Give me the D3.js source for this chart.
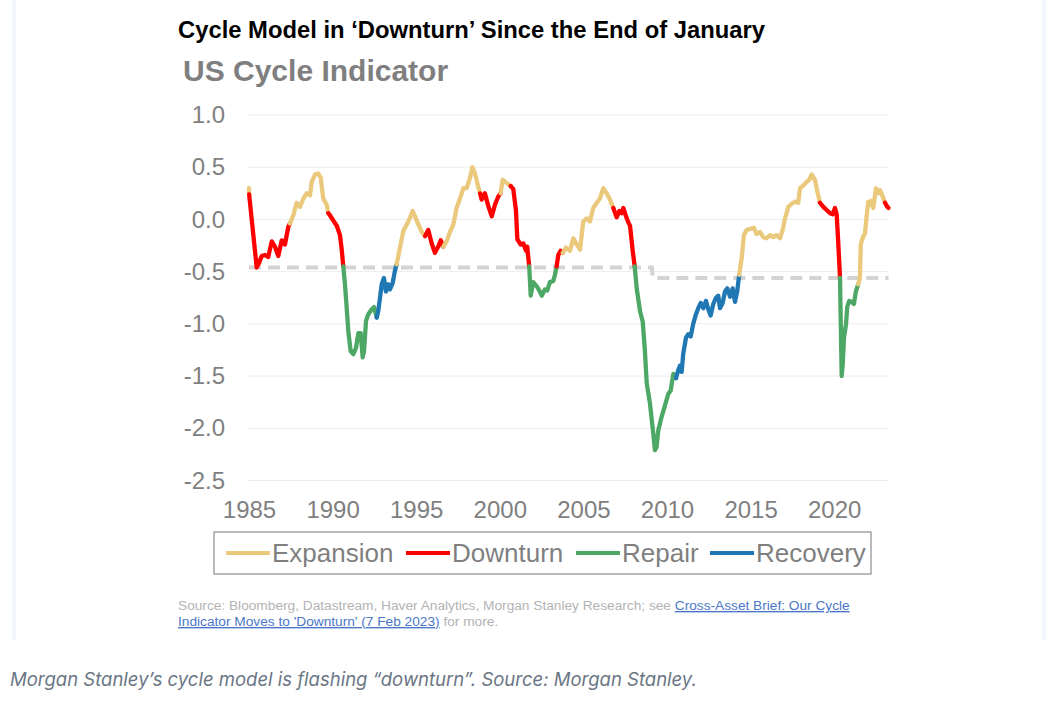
<!DOCTYPE html>
<html><head><meta charset="utf-8">
<script src="https://cdn.jsdelivr.net/npm/d3@7"></script>
<style>body{margin:0;background:#fff;} svg{display:block;}</style>
</head><body><svg id="c" width="1053" height="702"></svg>
<script>
// ---------- DATA ----------
const phaseCodes = ["E", "D", "R", "C"];
const phaseNames = ["Expansion", "Downturn", "Repair", "Recovery"];
const phaseColors = ["#EBC97C", "#FF0000", "#4EA865", "#1F78B4"];
const yTicks = [1.0, 0.5, 0.0, -0.5, -1.0, -1.5, -2.0, -2.5];
const xTicks = [1985, 1990, 1995, 2000, 2005, 2010, 2015, 2020];

const years = [
 1985.00,1985.01,1985.04,1985.46,1985.56,1985.76,1985.96,1986.15,1986.36,1986.55,1986.75,1986.96,1987.15,1987.35,1987.45,
 1987.65,1987.85,1988.05,1988.25,1988.45,1988.65,1988.75,1988.95,1989.14,1989.29,1989.44,1989.65,1989.74,
 1989.84,1990.04,1990.25,1990.44,1990.54,1990.64,
 1990.74,1990.84,1990.94,1991.08,1991.24,1991.40,1991.54,1991.68,1991.80,1991.88,1992.00,1992.13,1992.34,1992.48,1992.64,
 1992.73,1992.94,1993.07,1993.19,1993.33,1993.43,1993.59,1993.73,1993.83,
 1994.03,1994.23,1994.53,1994.79,1994.93,1995.13,1995.33,1995.53,
 1995.72,1995.93,1996.12,1996.32,1996.47,1996.62,
 1996.82,1997.02,1997.22,1997.42,1997.62,1997.82,1998.02,1998.22,1998.36,1998.52,1998.65,1998.82,
 1998.92,1999.11,1999.31,1999.52,1999.71,1999.91,2000.05,
 2000.17,2000.41,2000.65,
 2000.81,2000.97,2001.05,2001.25,2001.41,2001.57,2001.64,2001.76,
 2001.85,2002.00,2002.21,2002.36,2002.51,2002.70,2002.84,2003.00,2003.20,2003.30,2003.40,
 2003.50,2003.64,2003.76,
 2003.96,2004.20,2004.40,2004.60,2004.80,2004.99,2005.20,2005.39,2005.59,2005.80,2005.99,2006.19,2006.39,2006.59,2006.79,
 2006.99,2007.15,2007.29,2007.39,2007.55,2007.69,2007.79,2007.95,2008.07,
 2008.19,2008.39,2008.55,2008.68,2008.79,2008.98,2009.18,2009.28,2009.38,2009.48,2009.68,2009.88,2010.08,2010.22,2010.38,2010.54,
 2010.68,2010.78,2010.88,2010.97,2011.14,2011.27,2011.42,2011.57,2011.73,2011.87,2012.02,2012.17,2012.33,2012.47,2012.61,2012.77,
 2012.93,2013.07,2013.17,2013.33,2013.47,2013.61,2013.77,2013.93,2014.07,2014.20,2014.32,
 2014.47,2014.60,2014.77,2015.00,2015.20,2015.36,2015.56,2015.76,2015.96,2016.16,2016.36,2016.56,2016.76,2016.92,2017.06,
 2017.26,2017.46,2017.66,2017.85,2017.96,2018.19,2018.36,2018.51,2018.65,2018.85,2018.99,2019.15,
 2019.35,2019.55,2019.75,2019.91,2020.05,2020.15,2020.25,2020.35,
 2020.39,2020.45,2020.51,2020.59,2020.71,2020.78,2020.90,2021.05,2021.18,2021.30,2021.44,
 2021.54,2021.59,2021.74,2021.84,2021.94,2022.04,2022.14,2022.24,2022.34,2022.50,2022.64,2022.74,2022.90,2023.04,
 2023.18,2023.25
];
const values = [
 0.30,0.24,0.19,-0.46,-0.43,-0.35,-0.34,-0.36,-0.21,-0.26,-0.35,-0.20,-0.24,-0.07,-0.04,
 0.04,0.16,0.12,0.20,0.25,0.23,0.36,0.43,0.44,0.40,0.20,0.14,0.06,
 0.04,-0.01,-0.06,-0.15,-0.28,-0.45,
 -0.62,-0.84,-1.07,-1.26,-1.29,-1.23,-1.09,-1.09,-1.32,-1.26,-0.97,-0.91,-0.86,-0.84,-0.94,
 -0.88,-0.62,-0.56,-0.69,-0.62,-0.67,-0.61,-0.49,-0.43,
 -0.27,-0.11,-0.02,0.08,0.03,-0.05,-0.12,-0.16,
 -0.10,-0.23,-0.32,-0.26,-0.20,-0.26,
 -0.21,-0.12,-0.05,0.11,0.20,0.30,0.30,0.40,0.50,0.44,0.35,0.25,
 0.19,0.25,0.13,0.03,0.14,0.22,0.25,
 0.38,0.35,0.32,
 0.29,0.08,-0.19,-0.24,-0.23,-0.30,-0.26,-0.45,
 -0.73,-0.60,-0.64,-0.68,-0.73,-0.67,-0.68,-0.60,-0.59,-0.53,-0.45,
 -0.34,-0.30,-0.32,
 -0.27,-0.30,-0.18,-0.24,-0.29,-0.02,0.01,-0.02,0.11,0.16,0.20,0.30,0.25,0.19,0.11,
 0.02,0.08,0.06,0.11,0.03,-0.03,-0.06,-0.30,-0.45,
 -0.66,-0.88,-0.98,-1.26,-1.57,-1.76,-2.05,-2.21,-2.18,-2.02,-1.89,-1.78,-1.67,-1.64,-1.48,-1.52,
 -1.44,-1.40,-1.46,-1.29,-1.13,-1.10,-1.12,-1.00,-0.91,-0.85,-0.80,-0.85,-0.78,-0.86,-0.92,-0.81,
 -0.75,-0.73,-0.85,-0.80,-0.69,-0.66,-0.74,-0.66,-0.79,-0.69,-0.53,
 -0.37,-0.15,-0.10,-0.09,-0.08,-0.14,-0.12,-0.17,-0.18,-0.15,-0.17,-0.15,-0.18,-0.10,0.01,
 0.12,0.15,0.17,0.16,0.30,0.33,0.36,0.38,0.43,0.38,0.27,0.16,
 0.12,0.09,0.06,0.05,0.11,0.05,-0.24,-0.56,
 -0.94,-1.50,-1.39,-1.13,-1.00,-0.84,-0.78,-0.79,-0.81,-0.69,-0.62,
 -0.56,-0.24,-0.16,-0.14,0.03,0.17,0.14,0.18,0.11,0.30,0.25,0.28,0.22,0.16,
 0.12,0.11
];
const phases = [
 "E","E","D","D","D","D","D","D","D","D","D","D","D","D","D",
 "E","E","E","E","E","E","E","E","E","E","E","E","E",
 "D","D","D","D","D","D",
 "R","R","R","R","R","R","R","R","R","R","R","R","R","R","R",
 "C","C","C","C","C","C","C","C","C",
 "E","E","E","E","E","E","E","E",
 "D","D","D","D","D","D",
 "E","E","E","E","E","E","E","E","E","E","E","E",
 "D","D","D","D","D","D","D",
 "E","E","E",
 "D","D","D","D","D","D","D","D",
 "R","R","R","R","R","R","R","R","R","R","R",
 "D","D","D",
 "E","E","E","E","E","E","E","E","E","E","E","E","E","E","E",
 "D","D","D","D","D","D","D","D","D",
 "R","R","R","R","R","R","R","R","R","R","R","R","R","R","R","R",
 "C","C","C","C","C","C","C","C","C","C","C","C","C","C","C","C",
 "C","C","C","C","C","C","C","C","C","C","C",
 "E","E","E","E","E","E","E","E","E","E","E","E","E","E","E",
 "E","E","E","E","E","E","E","E","E","E","E","E",
 "D","D","D","D","D","D","D","D",
 "R","R","R","R","R","R","R","R","R","R","R",
 "E","E","E","E","E","E","E","E","E","E","E","E","E","E",
 "D","D"
];
const thresholdYears = [1985.0, 2009.1, 2009.15, 2023.25];
const thresholdValues = [-0.46, -0.46, -0.56, -0.56];

const title = "Cycle Model in \u2018Downturn\u2019 Since the End of January";
const subtitle = "US Cycle Indicator";
const sourceGrey1 = "Source: Bloomberg, Datastream, Haver Analytics, Morgan Stanley Research; see ";
const sourceLink1 = "Cross-Asset Brief: Our Cycle";
const sourceLink2 = "Indicator Moves to 'Downturn' (7 Feb 2023)";
const sourceGrey2 = " for more.";
const caption = "Morgan Stanley\u2019s cycle model is flashing \u201cdownturn\u201d. Source: Morgan Stanley.";

// ---------- CHART ----------
const svg = d3.select("#c");
const F = "'Liberation Sans', Arial, sans-serif";

// faint page strips
svg.append("rect").attr("x", 12).attr("y", 0).attr("width", 4).attr("height", 640).attr("fill", "#f3f6fb");
svg.append("rect").attr("x", 1042).attr("y", 0).attr("width", 4).attr("height", 640).attr("fill", "#f3f6fb");

const x = d3.scaleLinear().domain([1985, 2023.25]).range([249, 888.5]);
const y = d3.scaleLinear().domain([-2.5, 1.0]).range([480.5, 115]);

svg.append("text").attr("x", 178).attr("y", 38).attr("font-family", F).attr("font-weight", "bold")
  .attr("font-size", 23.8).attr("fill", "#000").text(title);
svg.append("text").attr("x", 183).attr("y", 81).attr("font-family", F).attr("font-weight", "bold")
  .attr("font-size", 30).attr("fill", "#7f7f7f").text(subtitle);

// gridlines
svg.append("g").selectAll("line").data(yTicks).join("line")
  .attr("x1", 248).attr("x2", 888).attr("y1", d => y(d)).attr("y2", d => y(d))
  .attr("stroke", "#ececec").attr("stroke-width", 1);

// y axis
const yFmt = d => d3.format(".1f")(d).replace("\u2212", "-");
const yAxis = svg.append("g").attr("transform", "translate(248,0)")
  .call(d3.axisLeft(y).tickValues(yTicks).tickFormat(yFmt).tickSize(0).tickPadding(23));
yAxis.select(".domain").remove();
yAxis.selectAll("text").attr("font-family", F).attr("font-size", 24).attr("fill", "#7f7f7f");

// x axis
const xAxis = svg.append("g").attr("transform", "translate(0,493)")
  .call(d3.axisBottom(x).tickValues(xTicks).tickFormat(d3.format("d")).tickSize(0).tickPadding(8));
xAxis.select(".domain").remove();
xAxis.selectAll("text").attr("font-family", F).attr("font-size", 24).attr("fill", "#7f7f7f");

// threshold dashed line
const thr = thresholdYears.map((t, i) => [t, thresholdValues[i]]);
svg.append("path").datum(thr)
  .attr("d", d3.line().x(d => x(d[0])).y(d => y(d[1])))
  .attr("fill", "none").attr("stroke", "#d3d3d3").attr("stroke-width", 4).attr("stroke-dasharray", "12,7");

// colored segments
const pts = years.map((t, i) => ({t, v: values[i], p: phases[i]}));
const runs = [];
for (let i = 1; i < pts.length; i++) {
  const c = pts[i].p;
  const last = runs[runs.length - 1];
  if (last && last.p === c) last.pts.push(pts[i]);
  else runs.push({p: c, pts: [pts[i - 1], pts[i]]});
}
const line = d3.line().x(d => x(d.t)).y(d => y(d.v));
svg.append("g").selectAll("path").data(runs).join("path")
  .attr("d", d => line(d.pts))
  .attr("fill", "none")
  .attr("stroke", d => phaseColors[phaseCodes.indexOf(d.p)])
  .attr("stroke-width", 4.3).attr("stroke-linejoin", "round").attr("stroke-linecap", "round");

// legend
svg.append("rect").attr("x", 214).attr("y", 532).attr("width", 657).attr("height", 42)
  .attr("fill", "#fff").attr("stroke", "#8c8c8c").attr("stroke-width", 1.2);
const legX = [226, 406, 576, 710];
const lg = svg.append("g").selectAll("g").data(phaseNames).join("g")
  .attr("transform", (d, i) => `translate(${legX[i]},553)`);
lg.append("line").attr("x1", 0).attr("x2", 44).attr("y1", 0).attr("y2", 0)
  .attr("stroke", (d, i) => phaseColors[i]).attr("stroke-width", 4);
lg.append("text").attr("x", 46).attr("y", 9).attr("font-family", F).attr("font-size", 26)
  .attr("fill", "#7f7f7f").text(d => d);

// source
const s1 = svg.append("text").attr("x", 178).attr("y", 610).attr("font-family", F).attr("font-size", 13.7).attr("fill", "#b3b3b3");
s1.append("tspan").text(sourceGrey1);
s1.append("tspan").attr("fill", "#4a78c8").attr("text-decoration", "underline").text(sourceLink1);
const s2 = svg.append("text").attr("x", 178).attr("y", 626).attr("font-family", F).attr("font-size", 13.7).attr("fill", "#b3b3b3");
s2.append("tspan").attr("fill", "#4a78c8").attr("text-decoration", "underline").text(sourceLink2);
s2.append("tspan").text(sourceGrey2);

// caption
svg.append("text").attr("x", 10).attr("y", 686).attr("font-family", "Inter, 'Noto Sans', sans-serif")
  .attr("font-style", "italic").attr("font-size", 18.5).attr("fill", "#6b7685").text(caption);
</script></body></html>
